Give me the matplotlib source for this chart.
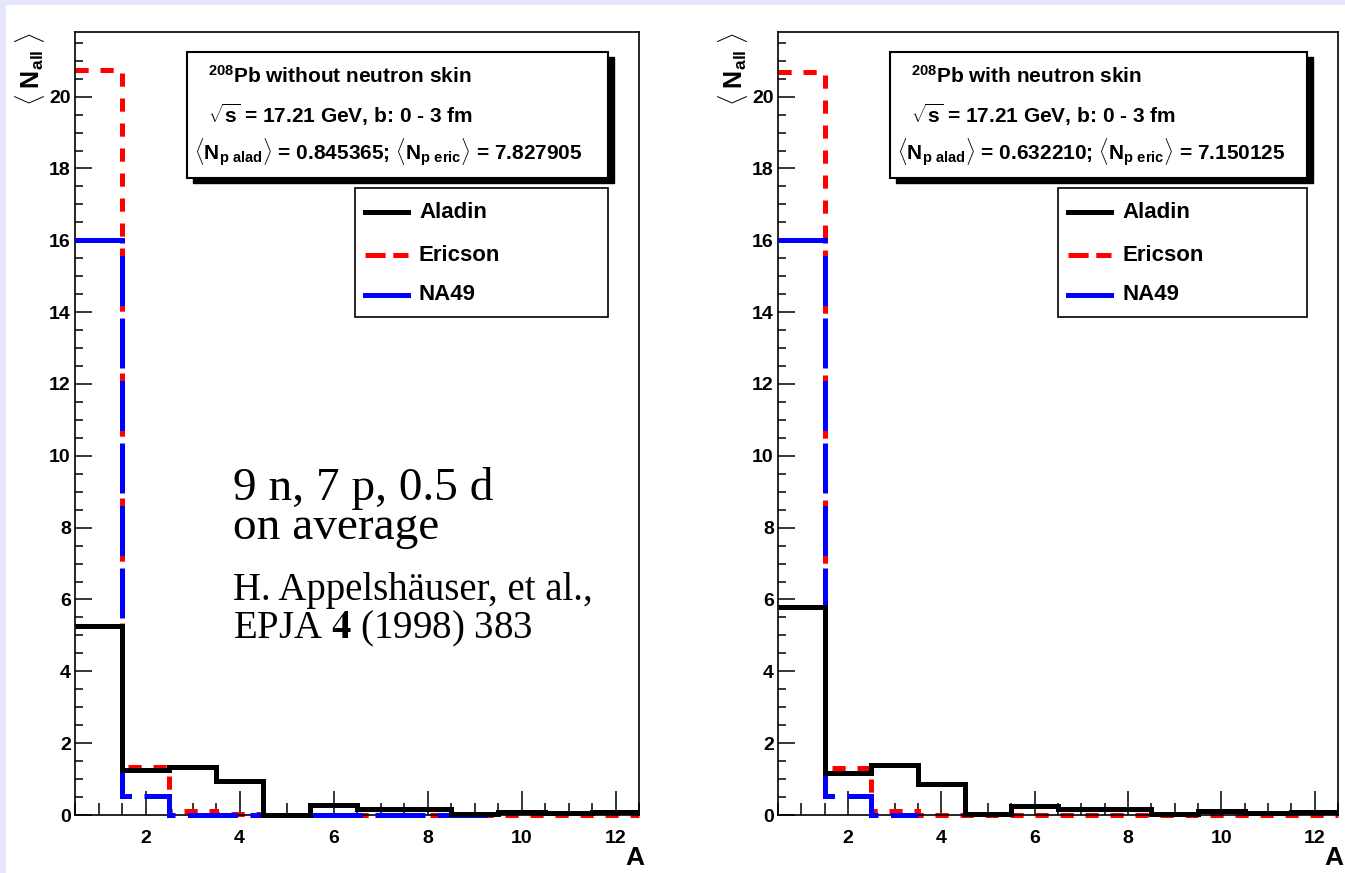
import matplotlib
matplotlib.use("Agg")
import matplotlib.pyplot as plt
from matplotlib.patches import Rectangle
from matplotlib.lines import Line2D
from matplotlib.ticker import MultipleLocator, FuncFormatter
import numpy as np

# Datos
bordes = np.arange(0.5, 13.0, 1.0)          # bins A = 1..12
aladin_sin = [5.25, 1.25, 1.35, 0.96, 0.0, 0.28, 0.18, 0.16, 0.03, 0.09, 0.06, 0.07]
ericson_sin = [20.75, 1.34, 0.11, 0.04, 0.01, 0.01, 0.01, 0.01, 0.01, 0.01, 0.01, 0.01]
na49_sin = [16.0, 0.52, 0.0, 0.0, 0.0, 0.0, 0.0, 0.0, 0.0]

aladin_con = [5.8, 1.17, 1.40, 0.87, 0.02, 0.26, 0.17, 0.17, 0.04, 0.12, 0.06, 0.07]
ericson_con = [20.7, 1.32, 0.12, 0.01, 0.01, 0.01, 0.01, 0.01, 0.01, 0.01, 0.01, 0.01]
na49_con = [16.0, 0.52, 0.0]

titulos = [r"$^{\mathbf{208}}$Pb without neutron skin", r"$^{\mathbf{208}}$Pb with neutron skin"]
linea_s = r"$\sqrt{\mathbf{s}}$ = 17.21 GeV, b: 0 - 3 fm"
promedios = [r"$\langle\mathbf{N}_{\mathbf{p\ alad}}\rangle$ = 0.845365; $\langle\mathbf{N}_{\mathbf{p\ eric}}\rangle$ = 7.827905",
             r"$\langle\mathbf{N}_{\mathbf{p\ alad}}\rangle$ = 0.632210; $\langle\mathbf{N}_{\mathbf{p\ eric}}\rangle$ = 7.150125"]
nombres = ["Aladin", "Ericson", "NA49"]

plt.rcParams['lines.scale_dashes'] = False
plt.rcParams['mathtext.fontset'] = 'custom'
plt.rcParams['mathtext.rm'] = 'Liberation Sans:bold'
plt.rcParams['mathtext.bf'] = 'Liberation Sans:bold'
plt.rcParams['mathtext.it'] = 'Liberation Sans:bold'
plt.rcParams['font.family'] = ['Liberation Sans', 'DejaVu Sans']
plt.rcParams['font.weight'] = 'bold'

W, H = 1345, 873
fig = plt.figure(figsize=(W / 100, H / 100), dpi=100, facecolor='#e6e6fa')


def fx(x):
    return x / W


def fy(y):
    return 1 - y / H


# fondo blanco (bordes lavanda arriba e izquierda)
fig.patches.append(Rectangle((fx(6), 0), 1, fy(5), transform=fig.transFigure,
                             facecolor='white', edgecolor='none', zorder=-10))

estilo = {
    'Aladin': dict(color='black', linestyle='-'),
    'Ericson': dict(color='#ff0000', linestyle=(0, (9.5, 8.5))),
    'NA49': dict(color='#0000ff', linestyle=(0, (36, 9))),
}
lw = 3.6

paneles = [
    dict(x0=75, x1=639, al=aladin_sin, er=ericson_sin, na=na49_sin, titulo=titulos[0], prom=promedios[0]),
    dict(x0=778, x1=1338, al=aladin_con, er=ericson_con, na=na49_con, titulo=titulos[1], prom=promedios[1]),
]
y_top, y_bot = 32, 815

for p in paneles:
    ax = fig.add_axes([fx(p['x0']), fy(y_bot), (p['x1'] - p['x0']) / W, (y_bot - y_top) / H])
    ax.stairs(p['er'], bordes, baseline=None, linewidth=lw, clip_on=False, zorder=2, **estilo['Ericson'])
    ax.stairs(p['na'], bordes[:len(p['na']) + 1], baseline=None, linewidth=lw, clip_on=False, zorder=3, **estilo['NA49'])
    ax.stairs(p['al'], bordes, baseline=None, linewidth=lw, clip_on=False, zorder=4, **estilo['Aladin'])
    ax.set_xlim(0.5, 12.5)
    ax.set_ylim(0, 21.8)
    ax.xaxis.set_major_locator(MultipleLocator(2))
    ax.xaxis.set_minor_locator(MultipleLocator(0.5))
    ax.yaxis.set_major_locator(MultipleLocator(2))
    ax.yaxis.set_minor_locator(MultipleLocator(0.5))
    ax.tick_params(axis='both', which='both', direction='in', top=False, right=False, width=1.1, colors='black')
    ax.tick_params(axis='x', which='major', length=17, pad=11, labelsize=14)
    ax.tick_params(axis='x', which='minor', length=8.6)
    ax.tick_params(axis='y', which='major', length=12, pad=3, labelsize=14)
    ax.tick_params(axis='y', which='minor', length=6)
    ax.yaxis.set_major_formatter(FuncFormatter(lambda v, pos: f"{v:g}"))
    ax.xaxis.set_major_formatter(FuncFormatter(lambda v, pos: f"{v:g}"))
    for lab in ax.get_xticklabels() + ax.get_yticklabels():
        lab.set_fontweight('bold')
    for s in ax.spines.values():
        s.set_linewidth(1.2)

    # etiquetas de ejes
    fig.text(fx(p['x0'] - 45), fy(y_top), r"$\langle\;\mathbf{N}_{\mathbf{all}}\;\rangle$", rotation=90,
             ha='center', va='top', fontsize=18)
    fig.text(fx(p['x1'] + 5), fy(846), "A", ha='right', va='top', fontsize=19, fontweight='bold')

    # caja con sombra
    bx0, bx1, by0, by1 = p['x0'] + 112, p['x1'] - 31, 52, 178
    fig.patches.append(Rectangle((fx(bx0 + 6), fy(by1 + 5)), (bx1 - bx0) / W, (by1 - by0) / H,
                                 transform=fig.transFigure, facecolor='black', edgecolor='black', zorder=5))
    fig.patches.append(Rectangle((fx(bx0), fy(by1)), (bx1 - bx0) / W, (by1 - by0) / H,
                                 transform=fig.transFigure, facecolor='white', edgecolor='black',
                                 linewidth=1.5, zorder=6))
    fig.text(fx(bx0 + 21), fy(83), p['titulo'], fontsize=15, va='baseline', zorder=7)
    fig.text(fx(bx0 + 21), fy(123), linea_s, fontsize=15, va='baseline', zorder=7)
    fig.text(fx(bx0 + 7), fy(160), p['prom'], fontsize=15, va='baseline', zorder=7)

    # leyenda
    lx0, lx1, ly0, ly1 = p['x0'] + 280, bx1, 188, 317
    fig.patches.append(Rectangle((fx(lx0), fy(ly1)), (lx1 - lx0) / W, (ly1 - ly0) / H,
                                 transform=fig.transFigure, facecolor='white', edgecolor='black',
                                 linewidth=1.2, zorder=6))
    for nombre, yy in zip(nombres, [212, 255, 295]):
        fig.add_artist(Line2D([fx(lx0 + 10), fx(lx0 + 53)], [fy(yy), fy(yy)], transform=fig.transFigure,
                              linewidth=lw, zorder=7, color=estilo[nombre]['color'],
                              linestyle=(0, (14.5, 5.5)) if nombre == 'Ericson' else '-'))
        fig.text(fx(lx0 + 64), fy(yy), nombre, fontsize=16, va='center', zorder=7)

# texto de referencia (panel izquierdo)
serif = dict(family='Liberation Serif', weight='normal', math_fontfamily='stix')
fig.text(fx(233), fy(500), "9 n, 7 p, 0.5 d", fontsize=34, va='baseline', fontdict=serif)
fig.text(fx(233), fy(539), "on average", fontsize=34, va='baseline', fontdict=serif)
fig.text(fx(233), fy(600), "H. Appelshäuser, et al.,", fontsize=28, va='baseline', fontdict=serif)
fig.text(fx(233), fy(638), r"EPJA $\mathbf{4}$ (1998) 383", fontsize=28, va='baseline', fontdict=serif)

fig.savefig("out.png", dpi=100, facecolor=fig.get_facecolor())
